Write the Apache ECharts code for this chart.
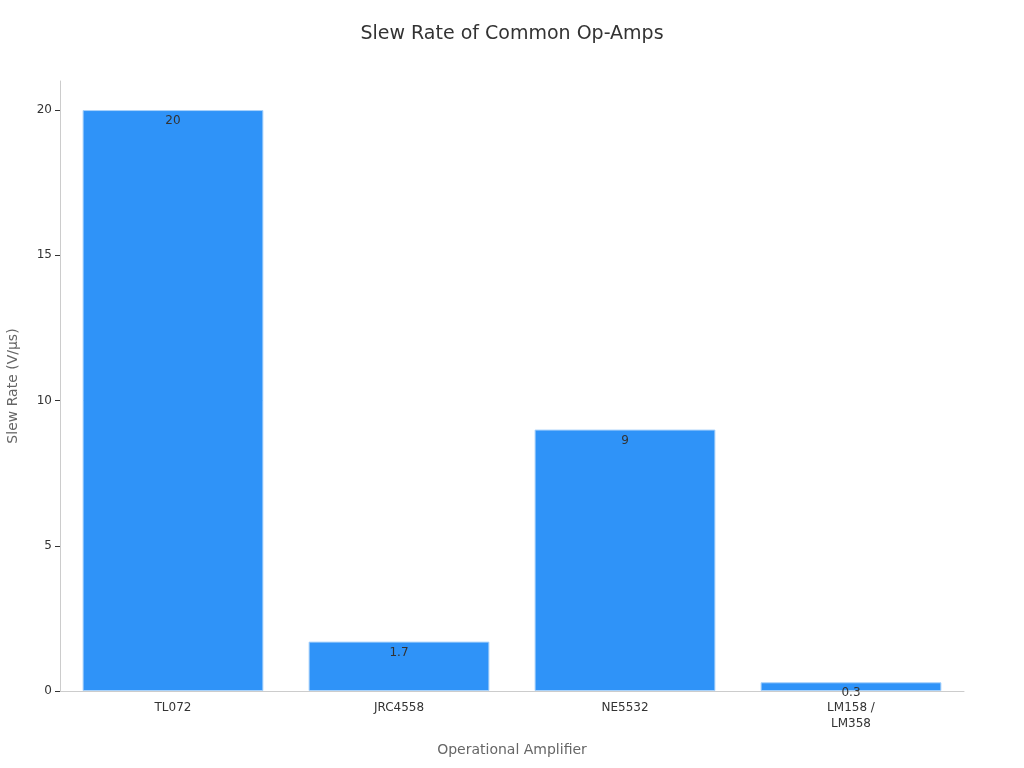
<!DOCTYPE html>
<html>
<head>
<meta charset="utf-8">
<script src="https://cdn.jsdelivr.net/npm/echarts@6/dist/echarts.min.js"></script>
<style>
  html, body { margin: 0; padding: 0; background: #fff; }
  #container { width: 1024px; height: 768px; }
</style>
</head>
<body>
<div id="container"></div>
<script>
var amplifiers = ['TL072', 'JRC4558', 'NE5532', 'LM158 /\nLM358'];
var slewRates = [20, 1.7, 9, 0.3];

var chart = echarts.init(document.getElementById('container'));
var option = {
    title: {
        text: 'Slew Rate of Common Op-Amps',
        left: 'center',
        top: 20,
        textStyle: {
            color: '#333',
            fontSize: 19,
            fontWeight: 'normal',
            fontFamily: 'DejaVu Sans'
        }
    },
    grid: { left: 60, right: 60, top: 81, bottom: 77, containLabel: false, outerBoundsMode: 'none' },
    xAxis: {
        type: 'category',
        data: amplifiers,
        name: 'Operational Amplifier',
        nameLocation: 'middle',
        nameGap: 52,
        nameTextStyle: { color: '#666', fontSize: 14, fontFamily: 'DejaVu Sans' },
        axisLine: { lineStyle: { color: '#ccc' } },
        axisTick: { alignWithLabel: true, lineStyle: { color: '#333' } },
        axisLabel: { color: '#333', fontSize: 12, lineHeight: 16, fontFamily: 'DejaVu Sans', margin: 9 }
    },
    yAxis: {
        type: 'value',
        min: 0,
        max: 21,
        interval: 5,
        name: 'Slew Rate (V/µs)',
        nameLocation: 'middle',
        nameGap: 40,
        nameTextStyle: { color: '#666', fontSize: 14, fontFamily: 'DejaVu Sans' },
        axisLine: { show: true, lineStyle: { color: '#ccc' } },
        axisTick: { show: true, lineStyle: { color: '#333' } },
        axisLabel: { color: '#333', fontSize: 12, fontFamily: 'DejaVu Sans', showMaxLabel: false },
        splitLine: { show: false }
    },
    series: [{
        type: 'bar',
        data: slewRates,
        barWidth: '80%',
        itemStyle: {
            color: '#2f93f8',
            borderColor: '#a8d2fb',
            borderWidth: 1
        },
        label: {
            show: true,
            position: 'insideTop',
            color: '#333',
            fontSize: 12,
            fontFamily: 'DejaVu Sans'
        }
    }]
};
chart.setOption(option);
</script>
</body>
</html>
